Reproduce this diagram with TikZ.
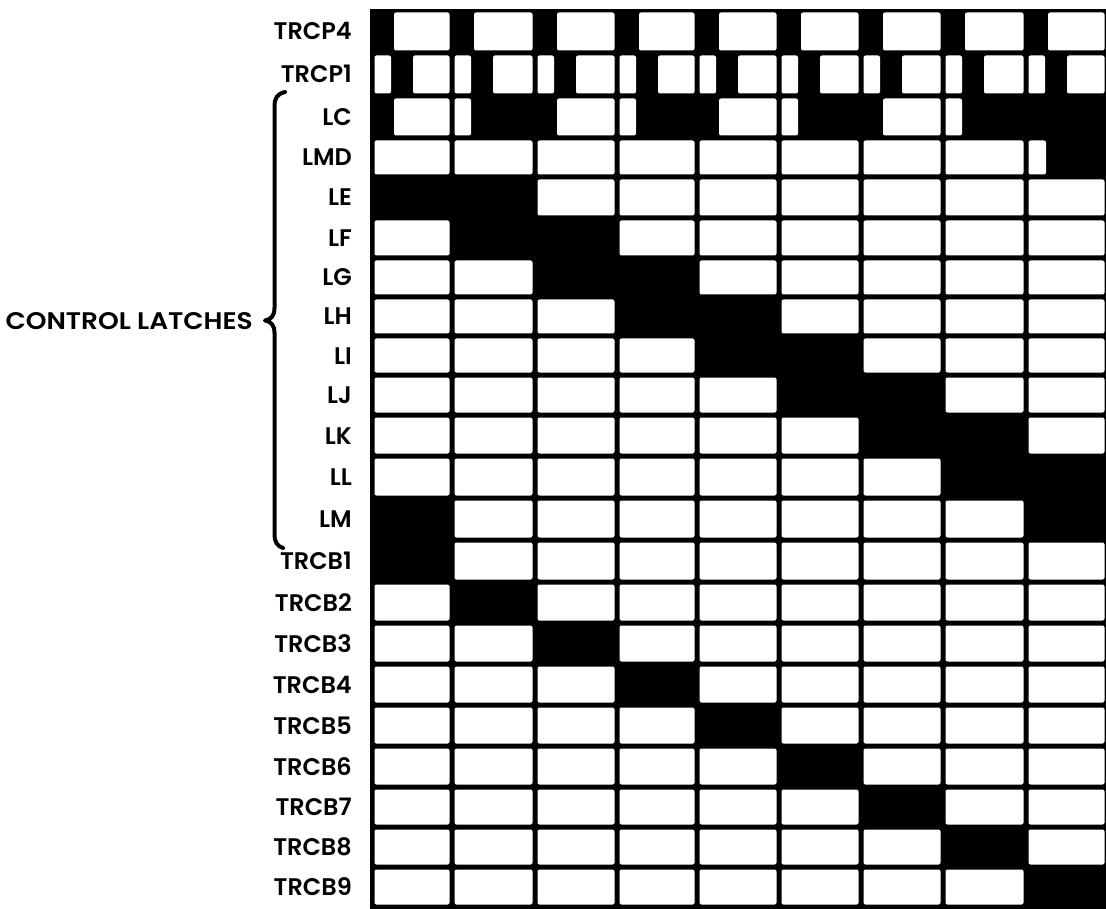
\documentclass[tikz,border=0pt]{standalone}
\usepackage{fontspec}
\setmainfont{Poppins}[UprightFont={* SemiBold}]
\def\CX{{372,452,535,617,697,779,861,943,1026,1107}}
\def\RY{{10,53,96,138,177,218,258,297,336,375,415,456,498,540,582,623,664,705,746,787,827,867,907}}
\tikzset{
  cellw/.style={fill=white, rounded corners=2pt},
  lab/.style={anchor=east, inner sep=0pt, text height=17pt, text depth=0pt, font=\fontsize{24}{26}\selectfont},
  bracepath/.style={line width=4pt, line cap=round, line join=round}
}
\newcommand\wtail[3]{%
  \pgfmathsetmacro\wxa{\CX[#2-1]+#3}%
  \pgfmathsetmacro\wxb{\CX[#2]-2.5}%
  \pgfmathsetmacro\wya{\RY[#1]+2.5}%
  \pgfmathsetmacro\wyb{\RY[#1+1]-2.5}%
  \fill[cellw] (\wxa,\wya) rectangle (\wxb,\wyb);}
\newcommand\wseg[4]{%
  \pgfmathsetmacro\wxa{\CX[#2-1]+#3}%
  \pgfmathsetmacro\wxb{\CX[#2-1]+#4}%
  \pgfmathsetmacro\wya{\RY[#1]+2.5}%
  \pgfmathsetmacro\wyb{\RY[#1+1]-2.5}%
  \fill[cellw] (\wxa,\wya) rectangle (\wxb,\wyb);}
\newcommand\wcell[2]{\wtail{#1}{#2}{2.5}}
\begin{document}
\begin{tikzpicture}[x=1pt,y=-1pt]
\useasboundingbox (0,0) rectangle (1106,909);
\fill[black] (370,9) rectangle (1108,909);
% TRCP4 and TRCP1
\foreach \c in {1,...,9}{\wtail{0}{\c}{22}\wseg{1}{\c}{2.5}{19}\wtail{1}{\c}{41}}
% LC
\wtail{2}{1}{22}
\foreach \c in {2,4,6,8}{\wseg{2}{\c}{2.5}{19}}
\foreach \c in {3,5,7}{\wtail{2}{\c}{22}}
% LMD
\foreach \c in {1,...,8}{\wcell{3}{\c}}
\wseg{3}{9}{2.5}{20}
% LE .. LM
\foreach \r/\L in {4/{3,4,5,6,7,8,9}, 5/{1,4,5,6,7,8,9}, 6/{1,2,5,6,7,8,9},
  7/{1,2,3,6,7,8,9}, 8/{1,2,3,4,7,8,9}, 9/{1,2,3,4,5,8,9},
  10/{1,2,3,4,5,6,9}, 11/{1,2,3,4,5,6,7}, 12/{2,3,4,5,6,7,8}}{
  \foreach \c in \L {\wcell{\r}{\c}}}
% TRCB1 .. TRCB9
\foreach \k in {1,...,9}{
  \foreach \c in {1,...,9}{
    \ifnum\c=\k\relax\else
      \pgfmathtruncatemacro\rr{12+\k}\wcell{\rr}{\c}
    \fi}}
% labels
\foreach \t [count=\i from 0] in {TRCP4,TRCP1,LC,LMD,LE,LF,LG,LH,LI,LJ,LK,LL,LM,
  TRCB1,TRCB2,TRCB3,TRCB4,TRCB5,TRCB6,TRCB7,TRCB8,TRCB9}{
  \pgfmathsetmacro\lya{\RY[\i]}
  \pgfmathsetmacro\lyb{\RY[\i+1]}
  \pgfmathsetmacro\ym{(\lya+\lyb)/2}
  \node[lab] (lab\i) at (352,\ym) {\t};}
\node[lab] (ctrl) at (253,321) {\scalebox{1.1}[1]{CONTROL LATCHES}};
% brace
\draw[bracepath] (285,92) .. controls (277,94) and (274.5,98) .. (274.5,107)
  -- (274.5,308) .. controls (274.5,316) and (271,319.5) .. (265,320.5)
  .. controls (271,321.5) and (274.5,325) .. (274.5,333)
  -- (274.5,534) .. controls (274.5,542) and (277,546) .. (283,548);
\end{tikzpicture}
\end{document}
